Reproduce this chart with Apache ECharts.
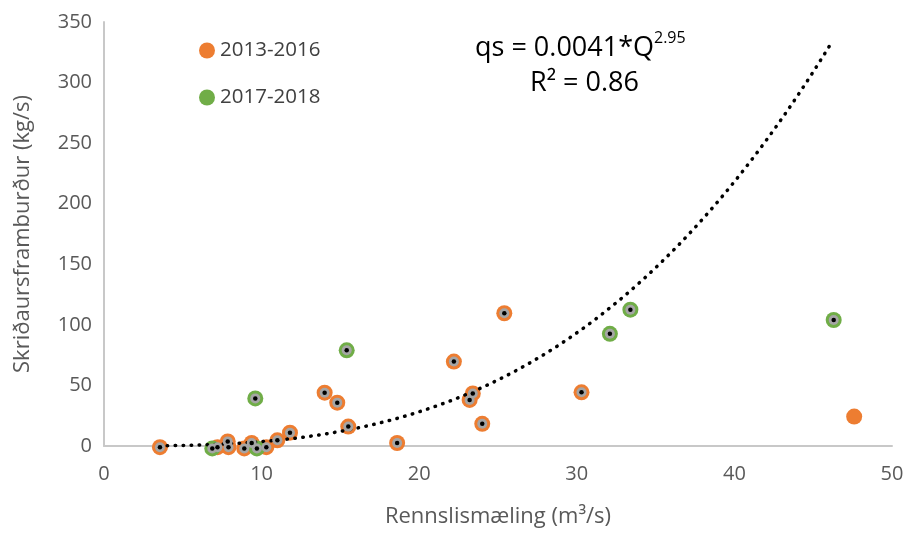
<!DOCTYPE html>
<html>
<head>
<meta charset="utf-8">
<script src="https://cdn.jsdelivr.net/npm/echarts@6/dist/echarts.min.js"></script>
<style>
  html, body { margin: 0; padding: 0; background: #fff; }
  #chart { width: 907px; height: 533px; }
</style>
</head>
<body>
<div id="chart"></div>
<script>
// Measurements: [discharge m3/s, bedload kg/s]
const period1Name = '2013-2016';
const period1 = [
  [3.55, -1], [7.2, -1], [7.85, 3.8], [7.9, -1], [8.9, -2], [9.37, 2.5],
  [10.3, -1], [11.0, 4.7], [11.8, 11], [14.0, 44], [14.8, 35.8], [15.5, 16],
  [18.6, 2.5], [22.2, 69.7], [23.2, 38], [23.4, 43.4], [24.0, 18.3],
  [25.4, 109.6], [30.3, 44.3], [47.6, 24.3]
];
const period2Name = '2017-2018';
const period2 = [
  [6.87, -2], [9.6, 39.3], [9.7, -2], [15.4, 79], [32.1, 92.6],
  [33.4, 112.5], [46.3, 104]
];
// Points used in the rating fit (last 2013-2016 point was left out)
const fitPoints = period1.slice(0, -1).concat(period2);

// Power-law rating curve qs = a * Q^b
const fitA = 0.0041;
const fitB = 2.95;
const fitRange = [3.5, 46.3];
const fitStep = 0.25;

const xTicks = { min: 0, max: 50, interval: 10 };
const yTicks = { min: 0, max: 350, interval: 50 };

const curve = [];
for (let q = fitRange[0]; q <= fitRange[1] + 1e-9; q += fitStep) {
  curve.push([q, fitA * Math.pow(q, fitB)]);
}

const FONT = 'Open Sans';
const solid = (c) => ({ color: c, opacity: 1 });

const chart = echarts.init(document.getElementById('chart'));
chart.setOption({
  animation: false,
  textStyle: { fontFamily: FONT },
  grid: { left: 104, right: 15, top: 22, bottom: 84, containLabel: false },
  legend: {
    data: [period1Name, period2Name],
    orient: 'vertical',
    left: 194,
    top: 35,
    itemGap: 26,
    itemWidth: 16,
    itemHeight: 16,
    icon: 'circle',
    textStyle: { fontSize: 20.5, color: '#404040', fontFamily: FONT }
  },
  xAxis: {
    type: 'value',
    min: xTicks.min, max: xTicks.max, interval: xTicks.interval,
    name: 'Rennslismæling (m³/s)',
    nameLocation: 'middle',
    nameGap: 60,
    nameTextStyle: { fontSize: 22, color: '#595959' },
    axisLine: { show: true, lineStyle: { color: '#c8c8c8', width: 2 } },
    axisTick: { show: false },
    splitLine: { show: false },
    axisLabel: { fontSize: 20, color: '#595959', margin: 18 }
  },
  yAxis: {
    type: 'value',
    min: yTicks.min, max: yTicks.max, interval: yTicks.interval,
    name: 'Skriðaursframburður (kg/s)',
    nameLocation: 'middle',
    nameGap: 70,
    nameTextStyle: { fontSize: 22, color: '#595959' },
    axisLine: { show: true, lineStyle: { color: '#c8c8c8', width: 2 } },
    axisTick: { show: false },
    splitLine: { show: false },
    axisLabel: { fontSize: 20, color: '#595959', margin: 12 }
  },
  series: [
    {
      name: 'fit',
      type: 'line',
      data: curve,
      showSymbol: false,
      smooth: false,
      lineStyle: { color: '#000', width: 3.5, type: [0.5, 7.5], cap: 'round' },
      z: 5
    },
    {
      name: period1Name,
      type: 'scatter',
      data: period1,
      symbolSize: 16,
      clip: false,
      itemStyle: solid('#ED7D31'),
      z: 2
    },
    {
      name: period2Name,
      type: 'scatter',
      data: period2,
      symbolSize: 16,
      clip: false,
      itemStyle: solid('#70AD47'),
      z: 2
    },
    {
      name: 'fitted',
      type: 'scatter',
      data: fitPoints,
      symbolSize: 10,
      clip: false,
      itemStyle: solid('#A5A5A5'),
      z: 10
    },
    {
      name: 'centre',
      type: 'scatter',
      data: fitPoints,
      symbolSize: 4.5,
      clip: false,
      itemStyle: solid('#000'),
      z: 11
    }
  ],
  graphic: [
    {
      type: 'text',
      left: 475,
      top: 30,
      style: {
        text: '{b|qs = 0.0041*Q}{s|2.95}',
        rich: {
          b: { fontSize: 27, fontFamily: FONT, fill: '#000', lineHeight: 36 },
          s: { fontSize: 16, fontFamily: FONT, fill: '#000', lineHeight: 36, verticalAlign: 'top', padding: [0, 0, 4, 0] }
        }
      }
    },
    {
      type: 'text',
      left: 530,
      top: 70,
      style: { text: 'R² = 0.86', fontSize: 27, fontFamily: FONT, fill: '#000' }
    }
  ]
});
</script>
</body>
</html>
